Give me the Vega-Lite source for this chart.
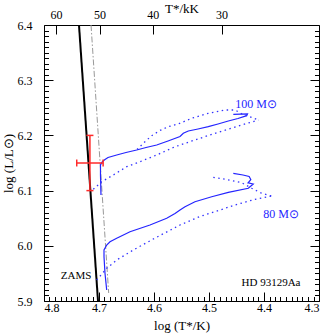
{
  "$schema": "https://vega.github.io/schema/vega-lite/v6.json",
  "width": 275,
  "height": 276,
  "autosize": {"type": "none"},
  "padding": {"left": 44, "top": 25, "right": 2, "bottom": 34},
  "background": "white",
  "config": {
    "view": {"stroke": "black", "strokeWidth": 1},
    "axis": {
      "domain": false, "grid": false, "tickColor": "black", "tickWidth": 1,
      "labelFont": "Liberation Serif", "labelFontSize": 12, "labelColor": "black",
      "titleFont": "Liberation Serif", "titleFontSize": 13, "titleFontWeight": "normal", "titleColor": "black",
      "labelOverlap": false
    }
  },
  "datasets": {
    "tracks": [
      {"s": "zams", "i": 0, "T": 4.7364, "L": 6.40},
      {"s": "zams", "i": 1, "T": 4.7018, "L": 5.90},
      {"s": "grey", "i": 0, "T": 4.7145, "L": 6.40},
      {"s": "grey", "i": 1, "T": 4.6824, "L": 5.9145},
      {"s": "s100", "i": 0, "T": 4.6964, "L": 6.0920},
      {"s": "s100", "i": 1, "T": 4.6973, "L": 6.1283},
      {"s": "s100", "i": 2, "T": 4.6973, "L": 6.1464},
      {"s": "s100", "i": 3, "T": 4.6936, "L": 6.1527},
      {"s": "s100", "i": 4, "T": 4.6891, "L": 6.1563},
      {"s": "s100", "i": 5, "T": 4.6836, "L": 6.1600},
      {"s": "s100", "i": 6, "T": 4.6678, "L": 6.1645},
      {"s": "s100", "i": 7, "T": 4.6509, "L": 6.1690},
      {"s": "s100", "i": 8, "T": 4.6315, "L": 6.1736},
      {"s": "s100", "i": 9, "T": 4.6145, "L": 6.1781},
      {"s": "s100", "i": 10, "T": 4.5951, "L": 6.1826},
      {"s": "s100", "i": 11, "T": 4.5745, "L": 6.1899},
      {"s": "s100", "i": 12, "T": 4.5527, "L": 6.1980},
      {"s": "s100", "i": 13, "T": 4.5467, "L": 6.2038},
      {"s": "s100", "i": 14, "T": 4.5376, "L": 6.2080},
      {"s": "s100", "i": 15, "T": 4.5200, "L": 6.2116},
      {"s": "s100", "i": 16, "T": 4.5013, "L": 6.2158},
      {"s": "s100", "i": 17, "T": 4.4836, "L": 6.2207},
      {"s": "s100", "i": 18, "T": 4.4649, "L": 6.2261},
      {"s": "s100", "i": 19, "T": 4.4473, "L": 6.2306},
      {"s": "s100", "i": 20, "T": 4.4315, "L": 6.2357},
      {"s": "s100", "i": 21, "T": 4.4300, "L": 6.2388},
      {"s": "s100", "i": 22, "T": 4.4558, "L": 6.2382},
      {"s": "d100u", "i": 0, "T": 4.6309, "L": 6.1745},
      {"s": "d100u", "i": 1, "T": 4.6164, "L": 6.1886},
      {"s": "d100u", "i": 2, "T": 4.6042, "L": 6.1995},
      {"s": "d100u", "i": 3, "T": 4.5891, "L": 6.2089},
      {"s": "d100u", "i": 4, "T": 4.5740, "L": 6.2158},
      {"s": "d100u", "i": 5, "T": 4.5558, "L": 6.2207},
      {"s": "d100u", "i": 6, "T": 4.5315, "L": 6.2310},
      {"s": "d100u", "i": 7, "T": 4.5013, "L": 6.2400},
      {"s": "d100u", "i": 8, "T": 4.4709, "L": 6.2460},
      {"s": "d100u", "i": 9, "T": 4.4527, "L": 6.2460},
      {"s": "d100u", "i": 10, "T": 4.4418, "L": 6.2400},
      {"s": "d100u", "i": 11, "T": 4.4104, "L": 6.2279},
      {"s": "d100l", "i": 0, "T": 4.7104, "L": 6.1024},
      {"s": "d100l", "i": 1, "T": 4.6951, "L": 6.1161},
      {"s": "d100l", "i": 2, "T": 4.6740, "L": 6.1283},
      {"s": "d100l", "i": 3, "T": 4.6496, "L": 6.1433},
      {"s": "d100l", "i": 4, "T": 4.6255, "L": 6.1524},
      {"s": "d100l", "i": 5, "T": 4.5951, "L": 6.1645},
      {"s": "d100l", "i": 6, "T": 4.5618, "L": 6.1795},
      {"s": "d100l", "i": 7, "T": 4.5255, "L": 6.1917},
      {"s": "d100l", "i": 8, "T": 4.4891, "L": 6.2038},
      {"s": "d100l", "i": 9, "T": 4.4405, "L": 6.2188},
      {"s": "d100l", "i": 10, "T": 4.4104, "L": 6.2279},
      {"s": "s80", "i": 0, "T": 4.6860, "L": 5.9199},
      {"s": "s80", "i": 1, "T": 4.6891, "L": 5.9502},
      {"s": "s80", "i": 2, "T": 4.6909, "L": 5.9803},
      {"s": "s80", "i": 3, "T": 4.6909, "L": 5.9924},
      {"s": "s80", "i": 4, "T": 4.6860, "L": 6.0014},
      {"s": "s80", "i": 5, "T": 4.6800, "L": 6.0074},
      {"s": "s80", "i": 6, "T": 4.6678, "L": 6.0136},
      {"s": "s80", "i": 7, "T": 4.6436, "L": 6.0255},
      {"s": "s80", "i": 8, "T": 4.6073, "L": 6.0377},
      {"s": "s80", "i": 9, "T": 4.5769, "L": 6.0498},
      {"s": "s80", "i": 10, "T": 4.5618, "L": 6.0585},
      {"s": "s80", "i": 11, "T": 4.5527, "L": 6.0649},
      {"s": "s80", "i": 12, "T": 4.5436, "L": 6.0708},
      {"s": "s80", "i": 13, "T": 4.5255, "L": 6.0799},
      {"s": "s80", "i": 14, "T": 4.4951, "L": 6.0889},
      {"s": "s80", "i": 15, "T": 4.4649, "L": 6.0969},
      {"s": "s80", "i": 16, "T": 4.4285, "L": 6.1042},
      {"s": "s80", "i": 17, "T": 4.4195, "L": 6.1120},
      {"s": "s80", "i": 18, "T": 4.4290, "L": 6.1140},
      {"s": "s80", "i": 19, "T": 4.4240, "L": 6.1200},
      {"s": "s80", "i": 20, "T": 4.4270, "L": 6.1255},
      {"s": "s80", "i": 21, "T": 4.4382, "L": 6.1283},
      {"s": "s80", "i": 22, "T": 4.4558, "L": 6.1313},
      {"s": "d80u", "i": 0, "T": 4.4922, "L": 6.1241},
      {"s": "d80u", "i": 1, "T": 4.4709, "L": 6.1205},
      {"s": "d80u", "i": 2, "T": 4.4405, "L": 6.1143},
      {"s": "d80u", "i": 3, "T": 4.4224, "L": 6.1042},
      {"s": "d80u", "i": 4, "T": 4.4042, "L": 6.0951},
      {"s": "d80u", "i": 5, "T": 4.3860, "L": 6.0902},
      {"s": "d80l", "i": 0, "T": 4.7042, "L": 5.9380},
      {"s": "d80l", "i": 1, "T": 4.6860, "L": 5.9592},
      {"s": "d80l", "i": 2, "T": 4.6678, "L": 5.9743},
      {"s": "d80l", "i": 3, "T": 4.6376, "L": 5.9924},
      {"s": "d80l", "i": 4, "T": 4.6013, "L": 6.0123},
      {"s": "d80l", "i": 5, "T": 4.5527, "L": 6.0377},
      {"s": "d80l", "i": 6, "T": 4.5164, "L": 6.0531},
      {"s": "d80l", "i": 7, "T": 4.4891, "L": 6.0618},
      {"s": "d80l", "i": 8, "T": 4.4527, "L": 6.0739},
      {"s": "d80l", "i": 9, "T": 4.4164, "L": 6.0842},
      {"s": "d80l", "i": 10, "T": 4.3860, "L": 6.0902}
    ],
    "err": [
      {"T": 4.7165, "T2": 4.7165, "L": 6.10, "L2": 6.20},
      {"T": 4.7405, "T2": 4.6925, "L": 6.15, "L2": 6.15},
      {"T": 4.7229, "T2": 4.7101, "L": 6.20, "L2": 6.20},
      {"T": 4.7229, "T2": 4.7101, "L": 6.10, "L2": 6.10},
      {"T": 4.7405, "T2": 4.7405, "L": 6.1437, "L2": 6.1563},
      {"T": 4.6925, "T2": 4.6925, "L": 6.1437, "L2": 6.1563}
    ],
    "labels": [
      {"text": "100 M⊙", "T": 4.4145, "L": 6.2569, "k": "blue"},
      {"text": "80 M⊙", "T": 4.369, "L": 6.057, "k": "blue"},
      {"text": "ZAMS", "T": 4.7418, "L": 5.9453, "k": "black"},
      {"text": "HD 93129Aa", "T": 4.3873, "L": 5.9332, "k": "black"}
    ]
  },
  "resolve": {"axis": {"x": "independent", "y": "independent"}},
  "layer": [
    {
      "data": {"name": "tracks"},
      "transform": [{"filter": "datum.s === 'zams'"}],
      "mark": {"type": "line", "color": "black", "strokeWidth": 2, "clip": true},
      "encoding": {
        "x": {"field": "T", "type": "quantitative",
          "scale": {"domain": [4.3, 4.8], "reverse": true, "nice": false, "zero": false},
          "axis": {
            "orient": "bottom",
            "values": [4.3,4.31,4.32,4.33,4.34,4.35,4.36,4.37,4.38,4.39,4.4,4.41,4.42,4.43,4.44,4.45,4.46,4.47,4.48,4.49,4.5,4.51,4.52,4.53,4.54,4.55,4.56,4.57,4.58,4.59,4.6,4.61,4.62,4.63,4.64,4.65,4.66,4.67,4.68,4.69,4.7,4.71,4.72,4.73,4.74,4.75,4.76,4.77,4.78,4.79,4.8],
            "labelExpr": "abs(datum.value*10-round(datum.value*10))<0.001 ? format(datum.value, '.1f') : ''",
            "tickSize": {"condition": {"test": "abs(datum.value*10-round(datum.value*10))<0.001", "value": -9}, "value": -4.5},
            "labelPadding": 10,
            "title": "log (T*/K)",
            "titlePadding": 2
          }},
        "y": {"field": "L", "type": "quantitative",
          "scale": {"domain": [5.9, 6.4], "nice": false, "zero": false},
          "axis": {
            "orient": "left",
            "values": [5.9,5.91,5.92,5.93,5.94,5.95,5.96,5.97,5.98,5.99,6.0,6.01,6.02,6.03,6.04,6.05,6.06,6.07,6.08,6.09,6.1,6.11,6.12,6.13,6.14,6.15,6.16,6.17,6.18,6.19,6.2,6.21,6.22,6.23,6.24,6.25,6.26,6.27,6.28,6.29,6.3,6.31,6.32,6.33,6.34,6.35,6.36,6.37,6.38,6.39,6.4],
            "labelExpr": "abs(datum.value*10-round(datum.value*10))<0.001 ? format(datum.value, '.1f') : ''",
            "tickSize": {"condition": {"test": "abs(datum.value*10-round(datum.value*10))<0.001", "value": -9}, "value": -4.5},
            "labelPadding": 21,
            "title": "log (L/L⊙)",
            "titlePadding": 2
          }},
        "order": {"field": "i"}
      }
    },
    {
      "data": {"name": "tracks"},
      "transform": [{"filter": "datum.s === 'grey'"}],
      "mark": {"type": "line", "color": "#999999", "strokeWidth": 1, "strokeDash": [6, 2, 1.5, 2], "clip": true},
      "encoding": {
        "x": {"field": "T", "type": "quantitative",
          "scale": {"domain": [4.3, 4.8], "reverse": true, "nice": false, "zero": false},
          "axis": {
            "orient": "top",
            "values": [4.77815, 4.69897, 4.60206, 4.47712],
            "labelExpr": "format(pow(10, datum.value)/1000, '.0f')",
            "tickSize": -9,
            "labelPadding": 13,
            "labelFlush": false,
            "title": "T*/kK",
            "titlePadding": -7
          }},
        "y": {"field": "L", "type": "quantitative",
          "scale": {"domain": [5.9, 6.4], "nice": false, "zero": false},
          "axis": {
            "orient": "right",
            "values": [5.9,5.91,5.92,5.93,5.94,5.95,5.96,5.97,5.98,5.99,6.0,6.01,6.02,6.03,6.04,6.05,6.06,6.07,6.08,6.09,6.1,6.11,6.12,6.13,6.14,6.15,6.16,6.17,6.18,6.19,6.2,6.21,6.22,6.23,6.24,6.25,6.26,6.27,6.28,6.29,6.3,6.31,6.32,6.33,6.34,6.35,6.36,6.37,6.38,6.39,6.4],
            "labels": false,
            "tickSize": {"condition": {"test": "abs(datum.value*10-round(datum.value*10))<0.001", "value": -9}, "value": -4.5},
            "title": null
          }},
        "order": {"field": "i"}
      }
    },
    {
      "data": {"name": "tracks"},
      "transform": [{"filter": "datum.s === 's100' || datum.s === 's80'"}],
      "mark": {"type": "line", "color": "#2424ff", "strokeWidth": 1.2, "clip": true},
      "encoding": {
        "x": {"field": "T", "type": "quantitative", "scale": {"domain": [4.3, 4.8], "reverse": true, "nice": false, "zero": false}, "axis": null},
        "y": {"field": "L", "type": "quantitative", "scale": {"domain": [5.9, 6.4], "nice": false, "zero": false}, "axis": null},
        "detail": {"field": "s"},
        "order": {"field": "i"}
      }
    },
    {
      "data": {"name": "tracks"},
      "transform": [{"filter": "indexof(['d100u','d100l','d80u','d80l'], datum.s) >= 0"}],
      "mark": {"type": "line", "color": "#3333ff", "strokeWidth": 1.3, "strokeDash": [1.5, 3.5], "clip": true},
      "encoding": {
        "x": {"field": "T", "type": "quantitative", "scale": {"domain": [4.3, 4.8], "reverse": true, "nice": false, "zero": false}, "axis": null},
        "y": {"field": "L", "type": "quantitative", "scale": {"domain": [5.9, 6.4], "nice": false, "zero": false}, "axis": null},
        "detail": {"field": "s"},
        "order": {"field": "i"}
      }
    },
    {
      "data": {"name": "err"},
      "mark": {"type": "rule", "color": "#ff2a2a", "strokeWidth": 1.5},
      "encoding": {
        "x": {"field": "T", "type": "quantitative", "scale": {"domain": [4.3, 4.8], "reverse": true, "nice": false, "zero": false}, "axis": null},
        "x2": {"field": "T2"},
        "y": {"field": "L", "type": "quantitative", "scale": {"domain": [5.9, 6.4], "nice": false, "zero": false}, "axis": null},
        "y2": {"field": "L2"}
      }
    },
    {
      "data": {"name": "labels"},
      "transform": [{"filter": "datum.k === 'blue'"}],
      "mark": {"type": "text", "color": "#2424ff", "font": "Liberation Serif", "fontSize": 12, "align": "center", "baseline": "middle"},
      "encoding": {
        "x": {"field": "T", "type": "quantitative", "scale": {"domain": [4.3, 4.8], "reverse": true, "nice": false, "zero": false}, "axis": null},
        "y": {"field": "L", "type": "quantitative", "scale": {"domain": [5.9, 6.4], "nice": false, "zero": false}, "axis": null},
        "text": {"field": "text"}
      }
    },
    {
      "data": {"name": "labels"},
      "transform": [{"filter": "datum.k === 'black'"}],
      "mark": {"type": "text", "color": "black", "font": "Liberation Serif", "fontSize": 11, "align": "center", "baseline": "middle"},
      "encoding": {
        "x": {"field": "T", "type": "quantitative", "scale": {"domain": [4.3, 4.8], "reverse": true, "nice": false, "zero": false}, "axis": null},
        "y": {"field": "L", "type": "quantitative", "scale": {"domain": [5.9, 6.4], "nice": false, "zero": false}, "axis": null},
        "text": {"field": "text"}
      }
    }
  ]
}
